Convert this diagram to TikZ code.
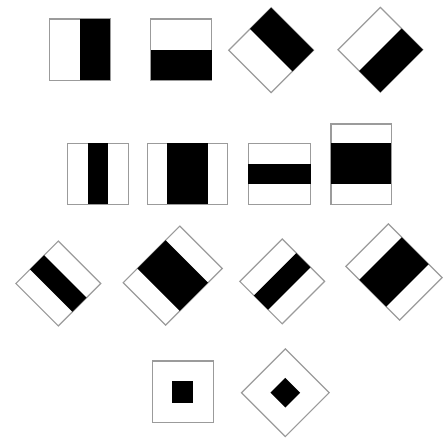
\documentclass[tikz,border=0pt]{standalone}
\definecolor{framegray}{RGB}{155,155,155}
\begin{document}
\begin{tikzpicture}[x=1pt,y=1pt,
  frame/.style={draw=framegray, line width=1.2pt, fill=white},
  blk/.style={fill=black}]
\useasboundingbox (0,0) rectangle (443,437);
% ---- Row 1 ----
% Box 1: left white, right black
\path[frame] (49.3,437-19) rectangle (110.3,437-80.3);
\path[blk] (79.7,437-19) rectangle (110.3,437-80.3);
% Box 2: top white, bottom black
\path[frame] (150.7,437-19) rectangle (211.7,437-80.3);
\path[blk] (150.7,437-49.7) rectangle (211.7,437-80.3);
% Box 3: rotated two-rect
\begin{scope}[shift={(271.2,437-50.2)},rotate=45]
  \path[frame] (-30,-30) rectangle (30,30);
  \path[blk] (0,-30) rectangle (30,30);
\end{scope}
% Box 4
\begin{scope}[shift={(380.4,437-49.8)},rotate=45]
  \path[frame] (-30,-30) rectangle (30,30);
  \path[blk] (-30,-30) rectangle (30,0);
\end{scope}
% ---- Row 2 ----
\path[frame] (67.3,437-143.3) rectangle (128.3,437-204.3);
\path[blk] (87.6,437-143.3) rectangle (108,437-204.3);
\path[frame] (147.3,437-143.3) rectangle (227.7,437-204.3);
\path[blk] (167.3,437-143.3) rectangle (208.3,437-204.3);
\path[frame] (248.3,437-143.3) rectangle (310.7,437-204.3);
\path[blk] (248.3,437-164.3) rectangle (310.7,437-184);
\path[frame] (331,437-124) rectangle (391.3,437-204.3);
\path[blk] (331,437-143.3) rectangle (391.3,437-184);
% ---- Row 3 ----
\begin{scope}[shift={(58.3,437-283.5)},rotate=45]
  \path[frame] (-30,-30) rectangle (30,30);
  \path[blk] (-10,-30) rectangle (10,30);
\end{scope}
\begin{scope}[shift={(172.7,437-275.6)},rotate=45]
  \path[frame] (-40,-30) rectangle (40,30);
  \path[blk] (-20,-30) rectangle (20,30);
\end{scope}
\begin{scope}[shift={(282.2,437-281.4)},rotate=45]
  \path[frame] (-30,-30) rectangle (30,30);
  \path[blk] (-30,-10) rectangle (30,10);
\end{scope}
\begin{scope}[shift={(394,437-272)},rotate=45]
  \path[frame] (-30,-38) rectangle (30,38);
  \path[blk] (-30,-19) rectangle (30,19);
\end{scope}
% ---- Row 4 ----
\path[frame] (152.3,437-361) rectangle (213.3,437-422.7);
\path[blk] (172.3,437-381) rectangle (192.8,437-403);
\begin{scope}[shift={(285.3,437-392.7)},rotate=45]
  \path[frame] (-31,-31) rectangle (31,31);
  \path[blk] (-10.5,-10.5) rectangle (10.5,10.5);
\end{scope}
\end{tikzpicture}
\end{document}
